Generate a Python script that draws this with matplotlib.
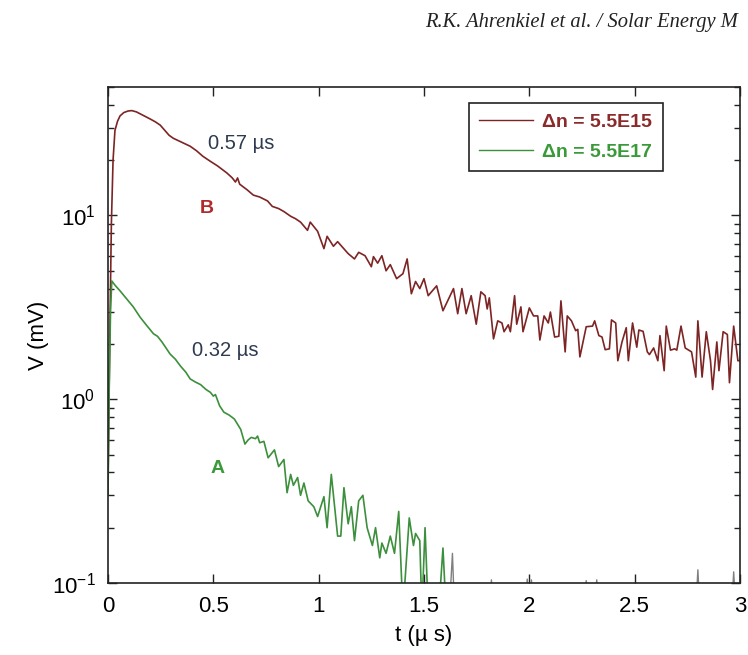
import matplotlib
matplotlib.use("Agg")
import matplotlib.pyplot as plt
from matplotlib.ticker import LogLocator, NullFormatter

plt.rcParams['font.family'] = ['Liberation Sans', 'DejaVu Sans']
plt.rcParams['mathtext.fontset'] = 'custom'
plt.rcParams['mathtext.rm'] = 'Liberation Sans'

# ---- data: curve B (Δn = 5.5E15) ----
t_B = [0.000, 0.008, 0.016, 0.024, 0.033, 0.045, 0.057, 0.075, 0.095, 0.113,
       0.135, 0.168, 0.20, 0.225, 0.248, 0.27, 0.29, 0.31, 0.35, 0.39,
       0.42, 0.45, 0.486, 0.52, 0.565, 0.59, 0.605, 0.615, 0.625, 0.66,
       0.69, 0.72, 0.757, 0.78, 0.81, 0.835, 0.867, 0.89, 0.914, 0.947,
       0.96, 0.995, 1.025, 1.04, 1.07, 1.09, 1.14, 1.17, 1.19, 1.22,
       1.25, 1.26, 1.28, 1.30, 1.32, 1.34, 1.37, 1.40, 1.42, 1.44,
       1.46, 1.48, 1.50, 1.52, 1.56, 1.59, 1.64, 1.66, 1.68, 1.70,
       1.724, 1.748, 1.77, 1.79, 1.80, 1.81, 1.83, 1.85, 1.87, 1.88,
       1.90, 1.91, 1.93, 1.94, 1.96, 1.97, 2.00, 2.02, 2.04, 2.05,
       2.07, 2.09, 2.10, 2.12, 2.14, 2.15, 2.17, 2.18, 2.20, 2.22,
       2.23, 2.24, 2.27, 2.30, 2.31, 2.33, 2.345, 2.36, 2.38, 2.39,
       2.41, 2.42, 2.44, 2.46, 2.47, 2.49, 2.51, 2.52, 2.54, 2.56,
       2.57, 2.59, 2.61, 2.62, 2.64, 2.65, 2.67, 2.69, 2.70, 2.72,
       2.74, 2.77, 2.79, 2.80, 2.82, 2.84, 2.86, 2.87, 2.89, 2.90,
       2.92, 2.94, 2.95, 2.97, 2.99, 3.00, 3.01]
V_B = [0.35, 2.0, 9.0, 20.0, 29.0, 32.5, 34.8, 36.3, 37.0, 37.2,
       36.6, 35.0, 33.5, 32.3, 31.0, 29.0, 27.3, 26.3, 25.0, 23.8,
       22.5, 21.0, 19.7, 18.6, 17.0, 16.0, 15.2, 16.0, 14.8, 13.8,
       12.9, 12.6, 12.0, 11.2, 10.9, 10.5, 9.9, 9.6, 9.2, 8.3,
       9.2, 8.2, 6.6, 7.7, 6.8, 7.2, 6.2, 5.8, 6.3, 6.04,
       5.26, 5.97, 5.5, 6.04, 5.0, 5.4, 4.53, 4.82, 5.8, 3.75,
       4.37, 4.0, 4.53, 3.66, 4.14, 3.03, 4.0, 2.92, 4.0, 2.92,
       3.66, 2.56, 3.84, 3.66, 3.1, 3.56, 2.13, 2.67, 2.6, 2.33,
       2.54, 2.33, 3.66, 2.56, 3.18, 2.33, 3.14, 2.84, 2.84, 2.1,
       2.84, 2.6, 2.98, 2.18, 2.2, 3.43, 1.81, 2.84, 2.67, 2.36,
       2.4, 1.7, 2.48, 2.5, 2.67, 2.22, 2.18, 1.86, 1.88, 2.7,
       2.6, 1.62, 2.05, 2.45, 1.62, 2.6, 1.92, 2.38, 2.34, 1.81,
       1.75, 1.9, 1.62, 2.22, 1.43, 2.5, 1.85, 1.88, 1.85, 2.5,
       1.9, 1.81, 1.32, 2.67, 1.32, 2.33, 1.62, 1.13, 2.05, 1.43,
       2.33, 2.25, 1.23, 2.5, 1.62, 1.62, 2.3]

# ---- data: curve A (Δn = 5.5E17) ----
t_A = [0.000, 0.006, 0.012, 0.018, 0.035, 0.057, 0.09, 0.12, 0.152, 0.18,
       0.216, 0.235, 0.256, 0.295, 0.32, 0.343, 0.37, 0.39, 0.415, 0.44,
       0.465, 0.486, 0.50, 0.51, 0.53, 0.55, 0.575, 0.60, 0.63, 0.65,
       0.665, 0.68, 0.70, 0.71, 0.72, 0.74, 0.76, 0.79, 0.81, 0.835,
       0.85, 0.867, 0.88, 0.90, 0.914, 0.93, 0.95, 0.977, 0.995, 1.025,
       1.04, 1.06, 1.09, 1.105, 1.12, 1.14, 1.155, 1.17, 1.19, 1.21,
       1.23, 1.255, 1.27, 1.29, 1.30, 1.32, 1.34, 1.36, 1.38, 1.40,
       1.43, 1.45, 1.46, 1.48, 1.49, 1.505, 1.52, 1.57, 1.59, 1.605,
       1.62]
V_A = [0.30, 1.2, 3.0, 4.4, 4.15, 3.89, 3.5, 3.18, 2.8, 2.55,
       2.27, 2.2, 2.05, 1.76, 1.65, 1.52, 1.40, 1.29, 1.24, 1.2,
       1.13, 1.09, 1.04, 1.06, 0.92, 0.85, 0.82, 0.78, 0.685, 0.57,
       0.60, 0.62, 0.61, 0.63, 0.58, 0.59, 0.48, 0.53, 0.43, 0.47,
       0.31, 0.39, 0.34, 0.375, 0.30, 0.35, 0.28, 0.26, 0.23, 0.295,
       0.20, 0.39, 0.18, 0.18, 0.33, 0.21, 0.26, 0.17, 0.28, 0.30,
       0.20, 0.16, 0.20, 0.137, 0.165, 0.145, 0.18, 0.145, 0.245, 0.07,
       0.226, 0.16, 0.186, 0.17, 0.07, 0.20, 0.07, 0.07, 0.155, 0.07,
       0.07]

# ---- data: noise floor spikes of curve A (grey) ----
t_tail = [1.62, 1.635, 1.645, 1.81, 1.82, 1.83, 1.98, 1.99, 2.00, 2.01,
          2.02, 2.26, 2.27, 2.28, 2.31, 2.32, 2.33, 2.79, 2.80, 2.81,
          2.96, 2.97, 2.98, 3.0]
V_tail = [0.07, 0.145, 0.07, 0.07, 0.104, 0.07, 0.07, 0.105, 0.07, 0.104,
          0.07, 0.07, 0.103, 0.07, 0.07, 0.104, 0.07, 0.07, 0.118, 0.07,
          0.07, 0.115, 0.07, 0.07]

x_ticks = [0, 0.5, 1, 1.5, 2, 2.5, 3]
x_tick_labels = ['0', '0.5', '1', '1.5', '2', '2.5', '3']
y_ticks = [0.1, 1, 10]
y_tick_labels = [r'$\mathregular{10^{-1}}$', r'$\mathregular{10^{0}}$', r'$\mathregular{10^{1}}$']

brown = '#7d2424'
green = '#3c8f3c'

fig = plt.figure(figsize=(7.48, 6.55), dpi=100)
ax = fig.add_axes([108/748, 1-583/655, (740-108)/748, (583-87)/655])

ax.plot(t_B, V_B, color=brown, lw=1.2, label='Δn = 5.5E15')
ax.plot(t_A, V_A, color=green, lw=1.2, label='Δn = 5.5E17')
ax.plot(t_tail, V_tail, color='#808080', lw=1.0)

ax.set_yscale('log')
ax.set_xlim(0, 3)
ax.set_ylim(0.1, 50)
ax.set_xticks(x_ticks)
ax.set_xticklabels(x_tick_labels)
ax.set_yticks(y_ticks)
ax.set_yticklabels(y_tick_labels)
ax.yaxis.set_minor_locator(LogLocator(base=10, subs=range(2, 10)))
ax.yaxis.set_minor_formatter(NullFormatter())
ax.tick_params(which='both', direction='in', top=True, right=True, width=1.0, color='#222222')
ax.tick_params(which='major', length=6.5, labelsize=16, pad=9)
ax.tick_params(which='minor', length=4)
for s in ax.spines.values():
    s.set_linewidth(1.2)
    s.set_color('#222222')

ax.set_xlabel('t (µ s)', fontsize=16, labelpad=6)
ax.set_ylabel('V (mV)', fontsize=16, labelpad=2)

ax.text(0.633, 24.7, '0.57 µs', fontsize=14.5, color='#2e3a50', ha='center', va='center')
ax.text(0.557, 1.83, '0.32 µs', fontsize=14.5, color='#2e3a50', ha='center', va='center')
ax.text(0.47, 10.9, 'B', fontsize=14, color='#b02a2a', fontweight='bold', ha='center', va='center')
ax.text(0.52, 0.42, 'A', fontsize=14, color='#3a9a3a', fontweight='bold', ha='center', va='center')

leg = ax.legend(loc='upper right', bbox_to_anchor=((663-108)/632, (583-103)/496),
                frameon=True, fancybox=False, framealpha=1, edgecolor='#222222',
                prop={'size': 14, 'weight': 'bold'}, handlelength=2.75,
                borderpad=0.55, labelspacing=0.6, handletextpad=0.5, borderaxespad=0)
leg.get_frame().set_linewidth(1.2)
for txt, c in zip(leg.get_texts(), ['#8a2a2a', '#3a9a3a']):
    txt.set_color(c)
for ln in leg.get_lines():
    ln.set_linewidth(1.0)

fig.text(425/748, 1-22/655, 'R.K. Ahrenkiel et al. / Solar Energy M', fontsize=14.8,
         family='Liberation Serif', style='italic', ha='left', va='center', color='#222222')

fig.savefig('out.png', dpi=100)
